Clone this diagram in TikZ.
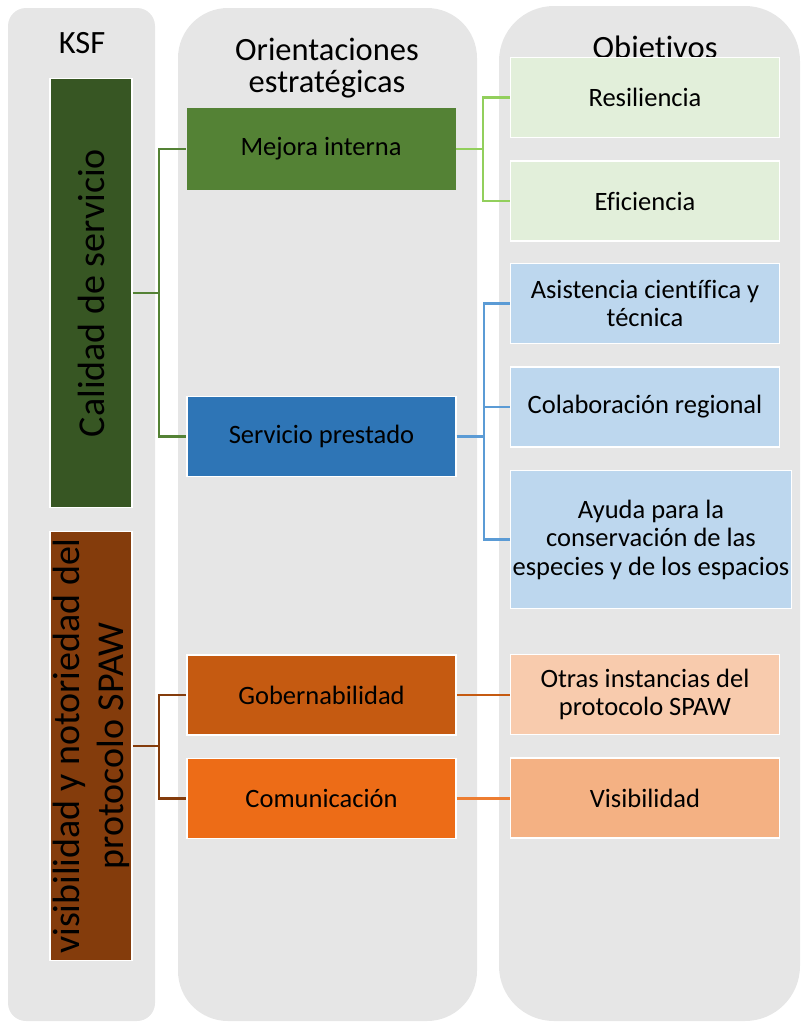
\documentclass[tikz,border=0pt]{standalone}
\usepackage{fontspec}
\setmainfont{Carlito}[Ligatures=NoCommon]
\usetikzlibrary{positioning}

\definecolor{panelgray}{HTML}{E6E6E6}
\definecolor{ksfgreen}{HTML}{375623}
\definecolor{ksfbrown}{HTML}{843C0C}
\definecolor{orgreen}{HTML}{548235}
\definecolor{orblue}{HTML}{2E75B6}
\definecolor{orrust}{HTML}{C55A11}
\definecolor{ororange}{HTML}{ED6C17}
\definecolor{objgreen}{HTML}{E2EFDA}
\definecolor{objblue}{HTML}{BDD7EE}
\definecolor{objpeach}{HTML}{F8CBAD}
\definecolor{objorange}{HTML}{F4B183}
\definecolor{linelime}{HTML}{92CF5C}
\definecolor{linesky}{HTML}{5B9BD5}
\definecolor{lineorange}{HTML}{ED7D31}

\begin{document}
\begin{tikzpicture}
    [x=1pt, y=-1pt,
    ksfnode/.style={rectangle, draw=white, line width=1.5pt, rotate=90, inner sep=0pt,
        minimum width=429pt, minimum height=82pt, align=center,
        font=\fontsize{38}{44}\selectfont},
    ornode/.style={rectangle, draw=white, line width=1.5pt, inner sep=2pt,
        minimum width=269pt, minimum height=80pt, align=center,
        font=\fontsize{26.5}{28.5}\selectfont},
    heading/.style={align=center, font=\fontsize{32.5}{32}\selectfont},
    link/.style={line width=2.4pt},]

    \useasboundingbox (0,0) rectangle (801,1023);

    %Columns
    \fill[panelgray, rounded corners=18pt] (8,8) rectangle (155,1021);
    \fill[panelgray, rounded corners=50pt] (178,8) rectangle (477,1021);
    \fill[panelgray, rounded corners=55pt] (499,6) rectangle (800,1021);

    \node[heading, anchor=base](ksf) at (82,53){KSF};
    \node[heading](ori) at (327,68){Orientaciones\\estratégicas};
    \node[heading, anchor=base](obj) at (655,58){Objetivos};

    %Nodes
    \node[ksfnode, fill=ksfgreen](CS) at (91,293){Calidad de servicio};
    \node[ksfnode, fill=ksfbrown](VN) at (91,746){visibilidad y notoriedad del\\protocolo SPAW};

    \node[ornode, fill=orgreen, draw=none, minimum height=82pt](MI) at (321,149){Mejora interna};
    \node[ornode, fill=orblue](SP) at (321.5,436.5){Servicio prestado};
    \node[ornode, fill=orrust](GO) at (321.5,695){Gobernabilidad};
    \node[ornode, fill=ororange](CO)[below=22pt of GO]{Comunicación};

    \node[ornode, fill=objgreen](RE) at (645,97.5){Resiliencia};
    \node[ornode, fill=objgreen](EF)[below=22pt of RE]{Eficiencia};
    \node[ornode, fill=objblue](AC) at (645,303.5){Asistencia científica y\\técnica};
    \node[ornode, fill=objblue](CR)[below=22pt of AC]{Colaboración regional};
    \node[ornode, fill=objblue, minimum width=281pt, minimum height=138pt, inner sep=0pt](AY)[below=22pt of CR, xshift=6pt]{Ayuda para la\\conservación de las\\especies y de los espacios};
    \node[ornode, fill=objpeach](OI) at (645,694.5){Otras instancias del\\protocolo SPAW};
    \node[ornode, fill=objorange](VI)[below=22pt of OI]{Visibilidad};

    %Lines
    \draw[link, orgreen](CS.south)--++(26pt,0)|-(MI.west);
    \draw[link, orgreen](CS.south)--++(26pt,0)|-(SP.west);
    \draw[link, ksfbrown](VN.south)--++(26pt,0)|-(GO.west);
    \draw[link, ksfbrown](VN.south)--++(26pt,0)|-(CO.west);

    \draw[link, linelime](MI.east)--++(27pt,0)|-(RE.west);
    \draw[link, linelime](MI.east)--++(27pt,0)|-(EF.west);
    \draw[link, linesky](SP.east)--++(27pt,0)|-(AC.west);
    \draw[link, linesky](SP.east)--++(27pt,0)|-(CR.west);
    \draw[link, linesky](SP.east)--++(27pt,0)|-(AY.west);

    \draw[link, orrust](GO.east)--(GO.east -| OI.west);
    \draw[link, lineorange](CO.east)--(CO.east -| VI.west);
\end{tikzpicture}
\end{document}
